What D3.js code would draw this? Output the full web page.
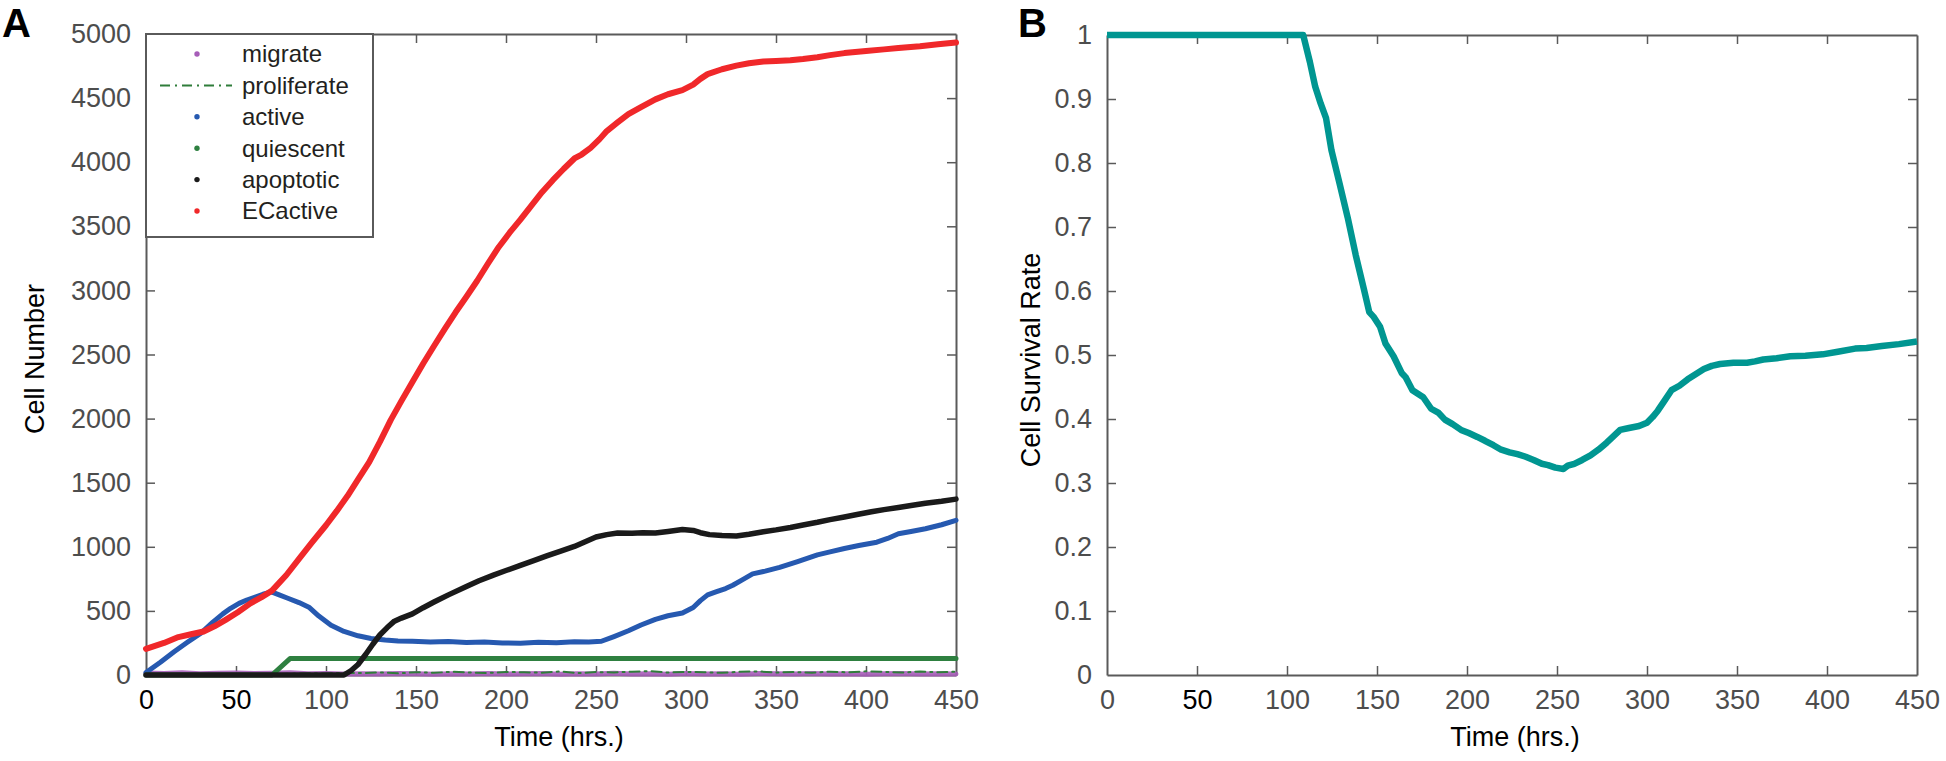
<!DOCTYPE html>
<html>
<head>
<meta charset="utf-8">
<script src="https://cdn.jsdelivr.net/npm/d3@7"></script>
<style>
  html, body { margin: 0; padding: 0; background: #fff; }
  svg { display: block; }
  text { font-family: "Liberation Sans", Arial, sans-serif; }
</style>
</head>
<body>
<svg id="chart" width="1946" height="761"></svg>
<script>
// ---------------- DATA ----------------
const xTicks = [0, 50, 100, 150, 200, 250, 300, 350, 400, 450];
const yTicksA = [0, 500, 1000, 1500, 2000, 2500, 3000, 3500, 4000, 4500, 5000];
const yTicksB = [0, 0.1, 0.2, 0.3, 0.4, 0.5, 0.6, 0.7, 0.8, 0.9, 1];
const legendLabels = ["migrate", "proliferate", "active", "quiescent", "apoptotic", "ECactive"];

// Panel A series: [time (hrs), cell number]
const ecActive = [[0,204],[10,250],[18,296],[25,318],[32,339],[38,380],[44,428],[51,490],[58,559],[64,605],[70,658],[78,780],[85,905],[92,1030],[100,1168],[106,1280],[112,1398],[118,1530],[124,1661],[130,1820],[136,1990],[142,2140],[148,2286],[154,2430],[160,2566],[166,2700],[172,2829],[178,2950],[184,3075],[190,3210],[196,3339],[202,3450],[208,3552],[214,3660],[220,3766],[226,3860],[232,3947],[238,4029],[242,4060],[247,4112],[252,4180],[256,4243],[262,4310],[268,4375],[275,4430],[283,4490],[290,4530],[298,4562],[304,4605],[308,4650],[312,4687],[320,4725],[328,4753],[335,4772],[343,4786],[350,4790],[358,4795],[365,4805],[373,4819],[380,4835],[388,4851],[400,4868],[410,4880],[418,4891],[430,4905],[440,4920],[450,4934]];
const active = [[0,20],[8,100],[15.6,181],[23,255],[30.7,329],[37,410],[42.7,477],[47,520],[51.7,559],[56,585],[60.7,608],[65,630],[69.7,648],[74,625],[78.8,599],[85,565],[90.8,526],[96,460],[102.8,388],[110,340],[117.8,306],[125,285],[132.9,273],[140,266],[148,263],[158,257],[168,262],[178,253],[188,257],[198,250],[208,247],[218,255],[228,252],[238,260],[246,258],[253,263],[260,300],[268,345],[275,390],[283,434],[290,462],[298,483],[304,526],[308,580],[312,625],[317,650],[322,674],[326,700],[331,740],[337,789],[344,810],[352,839],[362,885],[373,937],[380,960],[388,987],[396,1010],[406,1036],[412,1065],[418,1102],[425,1120],[433,1141],[442,1172],[450,1207]];
const apoptotic = [[0,0],[50,0],[100,0],[110,0],[114,35],[117.8,82],[122,160],[126,240],[129.9,312],[134,370],[138,420],[141.9,444],[148,477],[154,525],[160,569],[168,625],[178,691],[185,735],[193,779],[200,815],[208,855],[215,890],[223,931],[230,965],[238,1003],[244,1040],[250,1076],[256,1095],[262,1108],[270,1106],[276,1110],[283,1108],[290,1120],[298,1135],[304,1128],[308,1110],[313,1095],[320,1088],[328,1085],[335,1098],[343,1118],[350,1132],[358,1151],[365,1170],[373,1191],[380,1212],[388,1233],[395,1252],[403,1273],[410,1290],[418,1306],[425,1322],[433,1339],[442,1355],[450,1372]];
const quiescent = [[0,0],[70,0],[80,128],[450,128]];
const proliferate = [[0,0],[10,2],[20,5],[30,3],[40,8],[50,4],[60,6],[70,3],[80,10],[90,14],[100,12],[110,18],[120,15],[130,20],[140,13],[150,22],[160,17],[170,25],[180,19],[190,16],[200,24],[210,21],[220,18],[230,27],[240,15],[250,23],[260,20],[270,26],[280,30],[290,19],[300,24],[310,22],[320,17],[330,25],[340,28],[350,20],[360,23],[370,18],[380,26],[390,21],[400,29],[410,24],[420,19],[430,27],[440,22],[450,25]];
const migrate = [[0,15],[10,12],[20,18],[30,10],[40,14],[50,16],[60,11],[70,13],[80,17],[90,9],[100,12],[110,8],[120,10],[130,7],[140,11],[150,9],[160,6],[170,10],[180,8],[190,12],[200,7],[210,9],[220,11],[230,6],[240,10],[250,8],[260,13],[270,7],[280,9],[290,5],[300,11],[310,8],[320,10],[330,6],[340,12],[350,9],[360,7],[370,11],[380,8],[390,10],[400,6],[410,9],[420,12],[430,7],[440,10],[450,8]];

// Panel B series: [time (hrs), survival rate]
const survival = [[0,1],[50,1],[109,1],[112.7,0.958],[115.7,0.919],[118.7,0.893],[121.7,0.87],[124.7,0.82],[129.2,0.768],[133.7,0.715],[138.2,0.656],[142.7,0.603],[145.7,0.567],[148,0.56],[151.7,0.544],[154.7,0.518],[159.2,0.498],[163.7,0.472],[166,0.465],[169.7,0.445],[175.7,0.434],[180.1,0.416],[184,0.41],[187.7,0.399],[192,0.392],[196.7,0.383],[201,0.378],[205.7,0.372],[210,0.366],[214.7,0.359],[219,0.352],[223.7,0.348],[228,0.345],[232.6,0.341],[237,0.336],[241.6,0.33],[245,0.328],[249.1,0.324],[253.6,0.322],[256,0.327],[259.6,0.33],[264,0.336],[268.6,0.343],[273,0.352],[277.6,0.363],[281,0.372],[285.1,0.383],[290,0.386],[295.6,0.389],[300,0.394],[303.1,0.403],[306,0.413],[309.1,0.426],[313.6,0.445],[318,0.452],[322.6,0.462],[327,0.47],[331.6,0.478],[336,0.483],[340.6,0.486],[348,0.488],[355.6,0.488],[360,0.49],[364.6,0.493],[372,0.495],[379.6,0.498],[388,0.499],[397.6,0.501],[406,0.505],[415.6,0.51],[422,0.511],[430.5,0.514],[440,0.517],[450,0.521]];

// ---------------- LAYOUT ----------------
const svg = d3.select("#chart");
svg.append("rect").attr("width", 1946).attr("height", 761).attr("fill", "#fff");

const A = {x0: 146, x1: 956, y0: 34, y1: 675};
const B = {x0: 1107, x1: 1917, y0: 35, y1: 675};
const axisColor = "#5a5a5a";
const tickColor = "#4d4d4d";

function styleAxis(g) {
  g.selectAll("path.domain").attr("stroke", axisColor).attr("stroke-width", 2);
  g.selectAll(".tick line").attr("stroke", axisColor).attr("stroke-width", 1.5);
  g.selectAll(".tick text").attr("fill", tickColor).attr("font-size", 27)
    .attr("font-family", "'Liberation Sans', Arial, sans-serif");
}

function drawFrame(P, x, y, yTicks, yFmt, blackX) {
  const gb = svg.append("g").attr("transform", `translate(0,${P.y1})`)
    .call(d3.axisBottom(x).tickValues(xTicks).tickSize(-9).tickSizeOuter(0).tickPadding(15));
  styleAxis(gb);
  gb.selectAll(".tick text").attr("fill", d => blackX.includes(d) ? "#000" : tickColor);
  const gt = svg.append("g").attr("transform", `translate(0,${P.y0})`)
    .call(d3.axisTop(x).tickValues(xTicks).tickSize(-9).tickSizeOuter(0).tickFormat(""));
  styleAxis(gt);
  const gl = svg.append("g").attr("transform", `translate(${P.x0},0)`)
    .call(d3.axisLeft(y).tickValues(yTicks).tickSize(-9).tickSizeOuter(0).tickPadding(15).tickFormat(yFmt));
  styleAxis(gl);
  const gr = svg.append("g").attr("transform", `translate(${P.x1},0)`)
    .call(d3.axisRight(y).tickValues(yTicks).tickSize(-9).tickSizeOuter(0).tickFormat(""));
  styleAxis(gr);
  [gb, gt].forEach(g => g.selectAll(".tick line").filter(d => d === xTicks[0] || d === xTicks[xTicks.length-1]).remove());
  [gl, gr].forEach(g => g.selectAll(".tick line").filter(d => d === yTicks[0] || d === yTicks[yTicks.length-1]).remove());
}

// ---------------- PANEL A ----------------
const xA = d3.scaleLinear().domain([0, 450]).range([A.x0, A.x1]);
const yA = d3.scaleLinear().domain([0, 5000]).range([A.y1, A.y0]);
drawFrame(A, xA, yA, yTicksA, d => String(d), [0, 50]);

const lineA = d3.line().x(d => xA(d[0])).y(d => yA(d[1]));
const seriesA = [
  {data: migrate, color: "#a65db8", width: 5, dash: null, op: 0.9},
  {data: proliferate, color: "#2f7d3a", width: 2, dash: "10,5,2,5", op: 1},
  {data: active, color: "#2659b0", width: 5, dash: null, op: 1},
  {data: quiescent, color: "#2e8040", width: 5, dash: null, op: 1},
  {data: apoptotic, color: "#1a1a1a", width: 5.5, dash: null, op: 1},
  {data: ecActive, color: "#f0282a", width: 6, dash: null, op: 1}
];
seriesA.forEach(s => {
  svg.append("path").datum(s.data).attr("d", lineA)
    .attr("fill", "none").attr("stroke", s.color).attr("stroke-width", s.width)
    .attr("stroke-opacity", s.op)
    .attr("stroke-linejoin", "round").attr("stroke-linecap", "round")
    .attr("stroke-dasharray", s.dash);
});

// Legend
const leg = svg.append("g");
leg.append("rect").attr("x", A.x0).attr("y", A.y0).attr("width", 373 - A.x0).attr("height", 237 - A.y0)
  .attr("fill", "#fff").attr("stroke", axisColor).attr("stroke-width", 2);
const legColors = ["#a65db8", "#2f7d3a", "#2659b0", "#2e8040", "#1a1a1a", "#f0282a"];
legendLabels.forEach((lab, i) => {
  const cy = 54 + i * 31.4;
  if (lab === "proliferate") {
    leg.append("line").attr("x1", 160).attr("x2", 232).attr("y1", cy).attr("y2", cy)
      .attr("stroke", legColors[i]).attr("stroke-width", 2).attr("stroke-dasharray", "10,5,2,5");
  } else {
    leg.append("circle").attr("cx", 197).attr("cy", cy).attr("r", 2.7).attr("fill", legColors[i]);
  }
  leg.append("text").attr("x", 242).attr("y", cy).attr("dy", "0.35em")
    .attr("font-size", 24).attr("fill", "#231f20").text(lab);
});

svg.append("text").attr("x", (A.x0 + A.x1) / 2 + 8).attr("y", 746).attr("text-anchor", "middle")
  .attr("font-size", 27).attr("fill", "#000").text("Time (hrs.)");
svg.append("text").attr("transform", `translate(44,359) rotate(-90)`).attr("text-anchor", "middle")
  .attr("font-size", 27).attr("fill", "#000").text("Cell Number");
svg.append("text").attr("x", 2).attr("y", 37).attr("font-size", 40).attr("font-weight", "bold")
  .attr("fill", "#000").text("A");

// ---------------- PANEL B ----------------
const xB = d3.scaleLinear().domain([0, 450]).range([B.x0, B.x1]);
const yB = d3.scaleLinear().domain([0, 1]).range([B.y1, B.y0]);
drawFrame(B, xB, yB, yTicksB, d => d === 0 ? "0" : d === 1 ? "1" : String(d), [50]);

const lineB = d3.line().x(d => xB(d[0])).y(d => yB(d[1]));
svg.append("path").datum(survival).attr("d", lineB)
  .attr("fill", "none").attr("stroke", "#009691").attr("stroke-width", 6.5)
  .attr("stroke-linejoin", "round");

svg.append("text").attr("x", (B.x0 + B.x1) / 2 + 3).attr("y", 746).attr("text-anchor", "middle")
  .attr("font-size", 27).attr("fill", "#000").text("Time (hrs.)");
svg.append("text").attr("transform", `translate(1040,360) rotate(-90)`).attr("text-anchor", "middle")
  .attr("font-size", 27).attr("fill", "#000").text("Cell Survival Rate");
svg.append("text").attr("x", 1018).attr("y", 37).attr("font-size", 40).attr("font-weight", "bold")
  .attr("fill", "#000").text("B");
</script>
</body>
</html>
